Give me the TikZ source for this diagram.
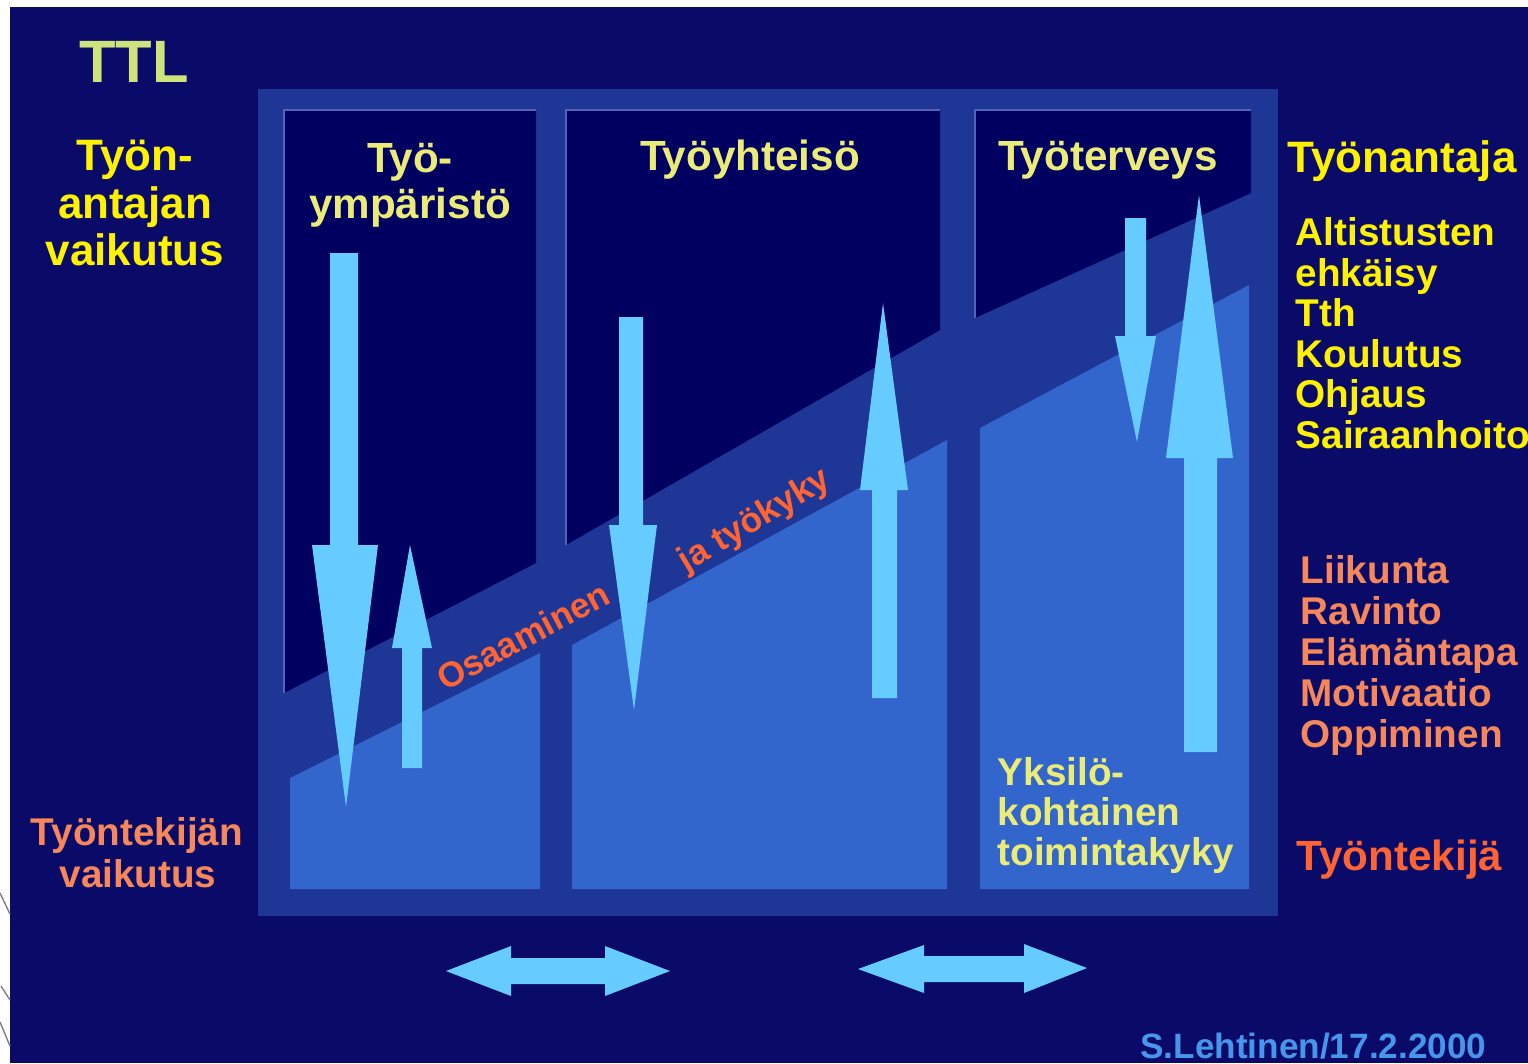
\documentclass[tikz,border=0pt]{standalone}
\usepackage{fontspec}
\setmainfont{Liberation Sans}
\usepackage{xcolor}
\definecolor{bgnavy}{RGB}{10,10,104}
\definecolor{framebl}{RGB}{30,54,150}
\definecolor{darktop}{RGB}{0,0,96}
\definecolor{lightbot}{RGB}{51,102,204}
\definecolor{edgeline}{RGB}{84,100,180}
\definecolor{arrowcy}{RGB}{102,204,255}
\definecolor{ttlyel}{RGB}{205,228,125}
\definecolor{paleyel}{RGB}{235,235,120}
\definecolor{salmon}{RGB}{245,135,90}
\definecolor{redorange}{RGB}{255,100,50}
\definecolor{footblue}{RGB}{70,150,235}
\begin{document}
\begin{tikzpicture}[
    x=0.01cm, y=-0.01cm,
    txt/.style={
        inner sep=0pt,
        anchor=base,
        font=\fontsize{12.5}{15}\selectfont\bfseries
    },
    colhead/.style={
        txt,
        text=paleyel,
        font=\fontsize{12}{15}\selectfont\bfseries
    },
    sidehead/.style={
        txt,
        text=yellow,
        font=\fontsize{12.5}{15}\selectfont\bfseries
    },
    yelitem/.style={
        txt,
        anchor=base west,
        text=yellow,
        font=\fontsize{11}{13}\selectfont\bfseries
    },
    salitem/.style={
        txt,
        anchor=base west,
        text=salmon,
        font=\fontsize{11}{13}\selectfont\bfseries
    },
    bandtext/.style={
        inner sep=0pt,
        text=redorange,
        font=\fontsize{10}{12}\selectfont\bfseries
    },
    bluearrow/.style={
        fill=arrowcy
    }
]
\useasboundingbox (0,0) rectangle (1528,1063);

% === BACKGROUND ===
\fill[white] (0,0) rectangle (1528,1063);
\fill[bgnavy] (10,7) rectangle (1528,1063);
\draw[gray, line width=0.4pt] (0,893) -- (10,914);
\draw[gray, line width=0.4pt] (1,986) -- (10,1000);
\draw[gray, line width=0.4pt] (0,1022) -- (10,1046);

% outer frame
\fill[framebl] (258,89) rectangle (1278,916);

% === COLUMNS (dark tops, light bottoms) ===

% Column 1
\fill[darktop] (284,110) -- (536,110) -- (536,563) -- (284,693) -- cycle;
\draw[edgeline, line width=0.5pt] (284,693) -- (284,110) -- (536,110);
\fill[lightbot] (290,778) -- (540,653) -- (540,889) -- (290,889) -- cycle;

% Column 2
\fill[darktop] (566,110) -- (940,110) -- (940,330) -- (566,545) -- cycle;
\draw[edgeline, line width=0.5pt] (566,545) -- (566,110) -- (940,110);
\fill[lightbot] (572,645) -- (947,440) -- (947,889) -- (572,889) -- cycle;

% Column 3
\fill[darktop] (975,110) -- (1251,110) -- (1251,193) -- (975,318) -- cycle;
\draw[edgeline, line width=0.5pt] (975,318) -- (975,110) -- (1251,110);
\fill[lightbot] (980,428) -- (1249,285) -- (1249,889) -- (980,889) -- cycle;

% === BAND TEXT ===
\node[bandtext, rotate=28] (osaam) at (523,636) {Osaaminen};
\node[bandtext, rotate=31] (tyokyky) at (755,521) {ja työkyky};

% === VERTICAL ARROWS ===

% Column 1
\fill[bluearrow] (330,253) -- (358,253) -- (358,545) -- (378,545) -- (346,807)
    -- (312,545) -- (330,545) -- cycle;
\fill[bluearrow] (402,768) -- (422,768) -- (422,648) -- (432,648) -- (410,545)
    -- (392,648) -- (402,648) -- cycle;

% Column 2
\fill[bluearrow] (619,317) -- (643,317) -- (643,525) -- (657,525) -- (634,710)
    -- (609,525) -- (619,525) -- cycle;
\fill[bluearrow] (872,698) -- (897,698) -- (897,490) -- (908,490) -- (883,303)
    -- (860,490) -- (872,490) -- cycle;

% Column 3
\fill[bluearrow] (1125,218) -- (1146,218) -- (1146,336) -- (1156,336) -- (1137,442)
    -- (1115,336) -- (1125,336) -- cycle;
\fill[bluearrow] (1184,752) -- (1217,752) -- (1217,458) -- (1233,458) -- (1199,195)
    -- (1166,458) -- (1184,458) -- cycle;

% === DOUBLE ARROWS (bottom) ===
\fill[bluearrow] (446,971) -- (511,946) -- (511,958) -- (605,958) -- (605,946)
    -- (670,971) -- (605,996) -- (605,984) -- (511,984) -- (511,996) -- cycle;
\fill[bluearrow] (858,969) -- (924,945) -- (924,956) -- (1024,956) -- (1024,944)
    -- (1087,968) -- (1024,993) -- (1024,982) -- (924,982) -- (924,993) -- cycle;

% === TITLES ===
\node[txt, text=ttlyel, font=\fontsize{17}{20}\selectfont\bfseries] (ttl) at (134,82) {TTL};

% employer influence (left)
\node[sidehead] (tyon) at (135,170) {Työn-};
\node[sidehead] (antajan) at (135,218) {antajan};
\node[sidehead] (vaik1) at (135,265) {vaikutus};

% column headings
\node[colhead] (tyo) at (410,172) {Työ-};
\node[colhead] (ymp) at (410,218) {ympäristö};
\node[colhead] (yhteiso) at (750,170) {Työyhteisö};
\node[colhead] (terveys) at (1108,170) {Työterveys};

% employer side (right)
\node[sidehead, anchor=base west] (antaja) at (1287,172) {Työnantaja};
\node[yelitem] (alt) at (1295,245) {Altistusten};
\node[yelitem] (ehk) at (1295,286) {ehkäisy};
\node[yelitem] (tth) at (1295,326) {Tth};
\node[yelitem] (koul) at (1295,367) {Koulutus};
\node[yelitem] (ohj) at (1295,407) {Ohjaus};
\node[yelitem] (sair) at (1295,448) {Sairaanhoito};

% employee side (right)
\node[salitem] (liik) at (1300,583) {Liikunta};
\node[salitem] (rav) at (1300,624) {Ravinto};
\node[salitem] (elam) at (1300,665) {Elämäntapa};
\node[salitem] (motiv) at (1300,706) {Motivaatio};
\node[salitem] (oppi) at (1300,747) {Oppiminen};
\node[txt, anchor=base west, text=redorange, font=\fontsize{12}{14}\selectfont\bfseries]
    (tekija) at (1296,870) {Työntekijä};

% employee influence (left)
\node[txt, text=salmon, font=\fontsize{11}{13}\selectfont\bfseries] (tekijan) at (137,845) {Työntekijän};
\node[txt, text=salmon, font=\fontsize{11}{13}\selectfont\bfseries] (vaik2) at (138,887) {vaikutus};

% individual capacity
\node[yelitem, text=paleyel] (yksilo) at (997,785) {Yksilö-};
\node[yelitem, text=paleyel] (kohtainen) at (997,825) {kohtainen};
\node[yelitem, text=paleyel] (toiminta) at (997,865) {toimintakyky};

% footer
\node[txt, anchor=base east, text=footblue, font=\fontsize{10}{12}\selectfont\bfseries]
    (author) at (1487,1058) {S.Lehtinen/17.2.2000};

\end{tikzpicture}
\end{document}
